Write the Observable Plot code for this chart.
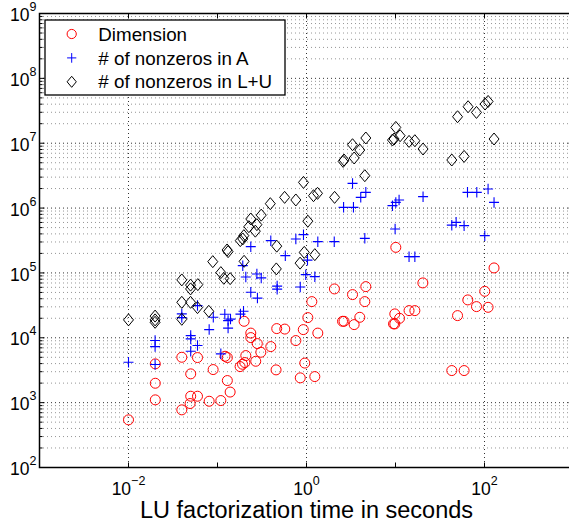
<!DOCTYPE html>
<html><head><meta charset="utf-8">
<script src="https://cdn.jsdelivr.net/npm/d3@7"></script>
<script src="https://cdn.jsdelivr.net/npm/@observablehq/plot@0.6"></script>
<style>
html,body{margin:0;padding:0;background:#fff;overflow:hidden;}
</style></head><body><div id="chart"></div>
<script>
// ---- data (LU factorization time in seconds vs sizes) ----
const dimTime = [0.01,0.02,0.02,0.02,0.0397,0.0397,0.0492,0.05,0.05,0.0596,0.0596,0.0806,0.0893,0.109,0.1216,0.129,0.129,0.1387,0.1795,0.191,0.203,0.208,0.199,0.2366,0.2366,0.269,0.28,0.307,0.397,0.455,0.463,0.57,0.759,0.851,0.92,0.957,1.035,1.148,1.24,1.34,2.06,2.54,2.64,3.29,3.43,3.97,4.52,4.64,9.5,9.82,9.82,10.08,11.1,14.2,16.5,20.3,42.9,49.8,59.0,64.9,81.3,100.7,109.7,128];
const dimValue = [543,1104,1991,3962,774,5008,969,1256,2778,1256,4955,1051,3236,1077,5188,4955,2191,1456,3598,3906,4150,5318,17950,11810,10070,4345,8140,5980,7315,3200,13860,13620,9060,2411,13370,4074,20480,36130,2523,11810,56650,17950,17950,46330,15970,20700,36130,61500,16370,16370,23350,247900,19970,26250,26250,70150,3124,21980,3124,38370,30260,52050,29500,119400];

const nnzATime = [0.01,0.0199,0.0199,0.0199,0.0397,0.0397,0.05,0.05,0.05,0.0596,0.0596,0.0806,0.0897,0.109,0.1208,0.1315,0.1315,0.14,0.181,0.196,0.1923,0.208,0.2366,0.2366,0.277,0.281,0.31,0.397,0.468,0.468,0.578,0.759,0.851,0.925,0.981,1.026,1.24,1.34,2.05,2.61,3.37,3.29,4.07,4.64,4.52,9.25,10.08,10.97,9.9,14.2,16.5,20.4,42.9,48.0,59.0,64.4,81.9,100.7,109.7,128];
const nnzAValue = [4190,9060,7315,3864,23350,20480,10810,9620,6190,7585,31330,13370,20700,5650,23020,18410,14100,19410,23180,25600,129500,86750,254200,50240,96500,40910,83750,314700,62600,56250,184800,334200,60830,389100,94150,157400,87700,303400,303400,1026000,1026000,2403000,1462000,1746000,341400,1089000,1224000,1333000,476400,178300,178300,1499000,545400,602300,535300,1746000,1746000,375500,1969000,1224000];

const nnzLUTime = [0.01,0.0199,0.0199,0.0199,0.0397,0.0397,0.0397,0.0498,0.0498,0.0498,0.0601,0.0596,0.0798,0.0885,0.109,0.1178,0.1387,0.1282,0.1315,0.1803,0.1923,0.199,0.1977,0.2366,0.225,0.266,0.277,0.31,0.392,0.463,0.458,0.568,0.759,0.847,0.944,0.925,1.035,1.199,1.24,1.33,2.07,2.58,2.64,3.29,3.43,3.97,4.52,4.64,9.25,9.64,10.08,11.27,14.2,16.5,20.4,42.9,49.8,59.0,65.4,81.3,101.5,109.7,128];
const nnzLUValue = [18880,21590,18880,17330,78000,35240,19280,64860,56650,35240,66040,29190,25600,149300,101100,82600,81660,226000,212800,314700,334200,151000,375500,679200,516600,440600,554600,777700,1169000,258800,115300,1462000,1333000,141600,207500,2489000,628300,1552000,191400,1686000,1462000,5245000,5508000,9480000,5916000,7852000,3157000,12030000,11200000,11610000,17510000,13050000,10660000,10930000,8140000,5508000,25600000,6260000,36500000,29850000,40180000,44060000,11610000];

const seriesLabels = ["Dimension", "# of nonzeros in A", "# of nonzeros in L+U"];
const seriesColors = ["#ff0000", "#0000ff", "#000000"];
const xTitle = "LU factorization time in seconds";

const xDomain = [1e-3, 1e3];
const yDomain = [1e2, 1e9];
const xDecades = [1e-3, 1e-2, 1e-1, 1, 1e1, 1e2, 1e3];
const xLabelTicks = [1e-2, 1, 1e2];
const yDecades = [1e2, 1e3, 1e4, 1e5, 1e6, 1e7, 1e8, 1e9];
const yMinor = [];
for (const d of yDecades.slice(0, -1)) for (let k = 2; k <= 9; k++) yMinor.push(d * k);

// ---- helpers ----
const FONT = "'Liberation Sans', Arial, Helvetica, sans-serif";
const pts = (ts, vs) => ts.map((t, i) => ({t, v: vs[i]}));
const rad = s => Math.sqrt(s / Math.PI);
const circleSym = {draw(c, s){ const r = rad(s); c.moveTo(r, 0); c.arc(0, 0, r, 0, 2 * Math.PI); c.closePath(); }};
const plusSym = {draw(c, s){ const r = rad(s); c.moveTo(-r, 0); c.lineTo(r, 0); c.moveTo(0, -r * 1.05); c.lineTo(0, r * 1.05); }};
const diamondSym = {draw(c, s){ const r = rad(s); const h = r * 1.2; c.moveTo(0, -h); c.lineTo(r, 0); c.lineTo(0, h); c.lineTo(-r, 0); c.closePath(); }};
const tickSym = (dx, dy) => ({draw(c, s){ const l = rad(s); c.moveTo(0, 0); c.lineTo(dx * l, dy * l); }});
const symbols = [circleSym, plusSym, diamondSym];
const supFmt = d => "10^" + Math.round(Math.log10(d));
const grid = {stroke: "#000", strokeDasharray: "1,3"};
const tickStyle = {fill: "none", stroke: "#000", strokeWidth: 1};

const svg = Plot.plot({
  width: 580, height: 531,
  marginLeft: 39, marginRight: 7, marginTop: 13, marginBottom: 64,
  x: {type: "log", domain: xDomain},
  y: {type: "log", domain: yDomain},
  style: {fontFamily: FONT, background: "white", maxWidth: "none", color: "black"},
  marks: [
    Plot.ruleY(yMinor, {...grid, strokeOpacity: 0.42}),
    Plot.ruleY(yDecades, {...grid, strokeOpacity: 0.8}),
    Plot.ruleX(xLabelTicks, {...grid, strokeOpacity: 0.8}),
    Plot.dot(pts(dimTime, dimValue), {x: "t", y: "v", symbol: circleSym, r: 5, fill: "none", stroke: seriesColors[0], strokeWidth: 1}),
    Plot.dot(pts(nnzATime, nnzAValue), {x: "t", y: "v", symbol: plusSym, r: 5, fill: "none", stroke: seriesColors[1], strokeWidth: 1.1}),
    Plot.dot(pts(nnzLUTime, nnzLUValue), {x: "t", y: "v", symbol: diamondSym, r: 5, fill: "none", stroke: seriesColors[2], strokeWidth: 1}),
    // inward ticks
    Plot.dot(yDecades, {x: () => xDomain[0], y: d => d, symbol: tickSym(1, 0), r: 5, ...tickStyle}),
    Plot.dot(yMinor, {x: () => xDomain[0], y: d => d, symbol: tickSym(1, 0), r: 3, ...tickStyle}),
    Plot.dot(yDecades, {x: () => xDomain[1], y: d => d, symbol: tickSym(-1, 0), r: 5, ...tickStyle}),
    Plot.dot(yMinor, {x: () => xDomain[1], y: d => d, symbol: tickSym(-1, 0), r: 3, ...tickStyle}),
    Plot.dot(xDecades, {x: d => d, y: () => yDomain[0], symbol: tickSym(0, -1), r: 5, ...tickStyle}),
    Plot.dot(xDecades, {x: d => d, y: () => yDomain[1], symbol: tickSym(0, 1), r: 5, ...tickStyle}),
    Plot.frame({stroke: "#000", strokeWidth: 1.5}),
    Plot.axisX(xLabelTicks, {anchor: "bottom", tickSize: 0, tickPadding: 15, tickFormat: supFmt, label: null, fontSize: 17.5}),
    Plot.axisY(yDecades, {anchor: "left", tickSize: 0, tickPadding: 3, tickFormat: supFmt, label: null, fontSize: 17.5, dy: 2}),
    Plot.text([xTitle], {frameAnchor: "bottom", dy: 50, text: d => d, fontSize: 23.5, fill: "#000"})
  ]
});

// superscript exponents as real text
d3.select(svg).selectAll('g[aria-label$="tick label"] text').each(function() {
  const m = this.textContent.match(/^10\^(.*)$/);
  if (!m) return;
  const t = d3.select(this);
  t.text(null);
  t.append("tspan").text("10");
  t.append("tspan").attr("dy", -10).attr("font-size", 12.5).text(m[1].replace("-", "\u2212"));
});

// legend
const lg = d3.select(svg).append("g").attr("font-family", FONT).attr("text-anchor", "start");
lg.append("rect").attr("x", 45).attr("y", 20).attr("width", 240).attr("height", 75)
  .attr("fill", "white").attr("stroke", "#000").attr("stroke-width", 1.3);
seriesLabels.forEach((label, i) => {
  const cy = 34 + i * 23.9;
  lg.append("path")
    .attr("transform", `translate(71.7,${cy})`)
    .attr("d", d3.symbol(symbols[i], Math.PI * 4.6 * 4.6)())
    .attr("fill", "none").attr("stroke", seriesColors[i]).attr("stroke-width", 1);
  lg.append("text").attr("x", 98.3).attr("y", cy + 6.6).attr("text-anchor", "start")
    .attr("font-size", 18.8).attr("fill", "#000").text(label);
});

document.getElementById("chart").appendChild(svg);
</script>
</body></html>
